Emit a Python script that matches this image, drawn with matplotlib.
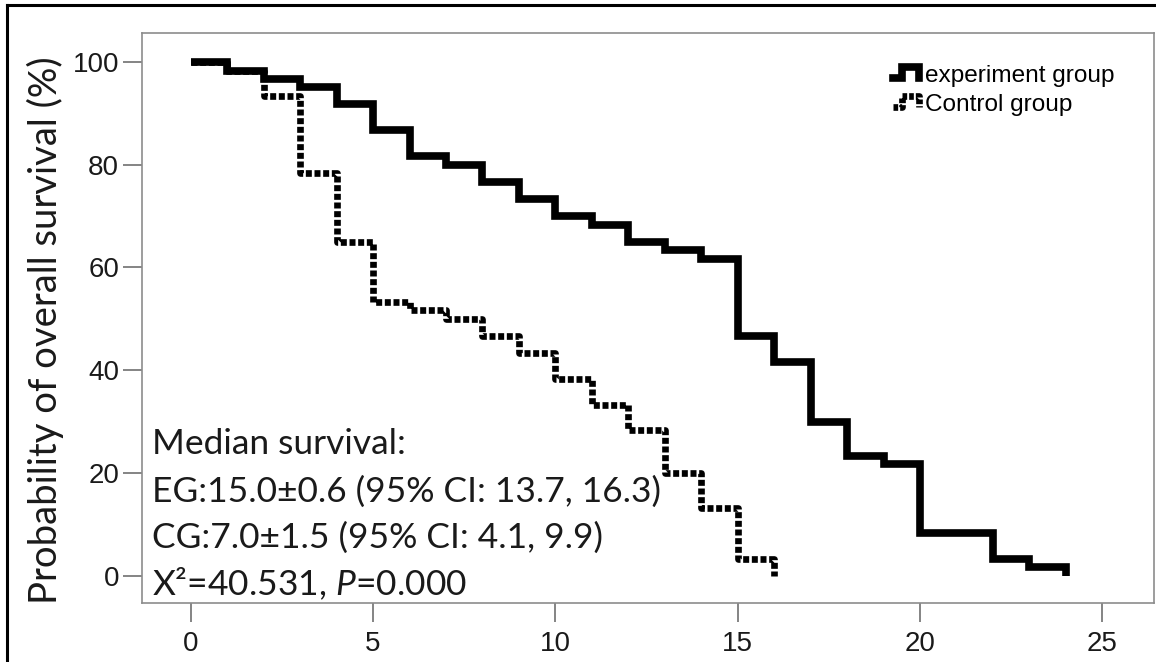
import numpy as np
import matplotlib
matplotlib.use("Agg")
import matplotlib.pyplot as plt
from matplotlib.lines import Line2D
from matplotlib.legend_handler import HandlerBase

# Kaplan-Meier steps (months, % surviving)
eg_time = [0, 1, 2, 3, 4, 5, 6, 7, 8, 9, 10, 11, 12, 13, 14, 15, 16, 17, 18, 19, 20, 22, 23, 24]
eg_surv = [100, 98.3, 96.7, 95.0, 91.7, 86.7, 81.7, 80.0, 76.7, 73.3, 70.0, 68.3, 65.0,
           63.3, 61.7, 46.7, 41.7, 30.0, 23.3, 21.7, 8.3, 3.3, 1.7, 0]

cg_time = [0, 1, 2, 3, 4, 5, 6, 7, 8, 9, 10, 11, 12, 13, 14, 15, 16]
cg_surv = [100, 98.3, 93.3, 78.3, 65.0, 53.3, 51.7, 50.0, 46.7, 43.3, 38.3, 33.3, 28.3,
           20.0, 13.3, 3.3, 0]

group_labels = ["experiment group", "Control group"]
x_ticks = [0, 5, 10, 15, 20, 25]
y_ticks = [0, 20, 40, 60, 80, 100]

note_lines = [
    "Median survival:",
    "EG:15.0\u00b10.6 (95% CI: 13.7, 16.3)",
    "CG:7.0\u00b11.5 (95% CI: 4.1, 9.9)",
    "X\u00b2=40.531, $P$=0.000",
]

plt.rcParams['mathtext.fontset'] = 'custom'
plt.rcParams['mathtext.rm'] = 'Lato'
plt.rcParams['mathtext.it'] = 'Lato:italic'


class StepHandler(HandlerBase):
    # little step-shaped legend icon, like the SPSS one
    def create_artists(self, legend, orig_handle, xdescent, ydescent,
                       width, height, fontsize, trans):
        xs = np.array([0.0, 0.3, 0.3, 0.85, 0.85]) * width - xdescent
        ys = np.array([0.25, 0.25, 0.85, 0.85, 0.25]) * height - ydescent
        ls = orig_handle.get_linestyle()
        if ls != '-':
            ls = (0, (0.7, 0.3))
        ln = Line2D(xs, ys, color=orig_handle.get_color(),
                    linewidth=orig_handle.get_linewidth(),
                    linestyle=ls, solid_joinstyle='miter', dash_capstyle='butt')
        ln.set_transform(trans)
        return [ln]


fig = plt.figure(figsize=(11.56, 6.62), dpi=100)
ax = fig.add_axes([0.1228, 0.0891, 0.8755, 0.8611])

cg_line, = ax.step(cg_time, cg_surv, where='post', color='black', linewidth=4.8,
                   linestyle=(0, (0.9, 0.4)), dash_capstyle='butt')
eg_line, = ax.step(eg_time, eg_surv, where='post', color='black', linewidth=5.5,
                   solid_joinstyle='miter', solid_capstyle='butt')

ax.set_xlim(-1.34, 26.42)
ax.set_ylim(-5.25, 105.6)
ax.set_xticks(x_ticks)
ax.set_yticks(y_ticks)

for s in ax.spines.values():
    s.set_color('#8c8c8c')
    s.set_linewidth(1.2)
ax.tick_params(direction='out', length=13.5, width=1.2, color='#707070',
               labelsize=20, labelcolor='#1a1a1a')
ax.tick_params(axis='x', pad=7)
ax.tick_params(axis='y', pad=3)
for lab in ax.get_xticklabels() + ax.get_yticklabels():
    lab.set_fontfamily('Liberation Sans')

ax.text(-0.095, 0.478, "Probability of overall survival (%)", transform=ax.transAxes,
        rotation=90, ha='center', va='center', fontsize=27.5, family='Lato',
        color='#1a1a1a')

note_y = [0.2614, 0.1777, 0.0965, 0.014]
for line, yy in zip(note_lines, note_y):
    ax.text(0.0099, yy, line, transform=ax.transAxes, ha='left', va='baseline',
            fontsize=25.5, family='Lato', color='#1a1a1a')

leg = ax.legend([eg_line, cg_line], group_labels, loc='upper left',
                bbox_to_anchor=(0.742, 0.944), frameon=False, borderpad=0,
                borderaxespad=0, handlelength=1.25, handletextpad=0.05,
                labelspacing=0.28, handler_map={Line2D: StepHandler()},
                prop={'family': 'Liberation Sans', 'size': 17.6})

# black frame round the picture (left and top visible)
fig.add_artist(Line2D([0.006, 0.006], [0, 0.9925], transform=fig.transFigure,
                      color='black', linewidth=2.2))
fig.add_artist(Line2D([0.006, 1.0], [0.9925, 0.9925], transform=fig.transFigure,
                      color='black', linewidth=2.2))

fig.savefig('out.png', dpi=100)
